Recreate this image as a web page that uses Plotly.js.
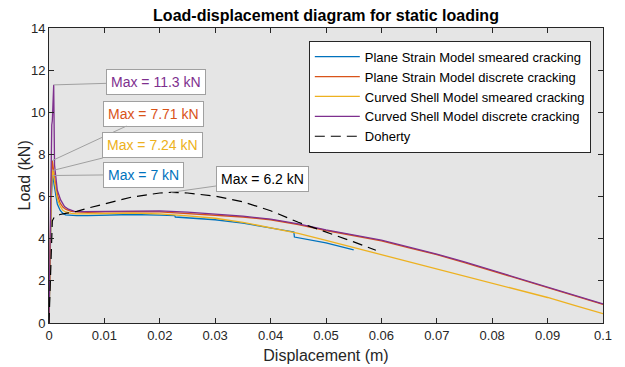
<!DOCTYPE html>
<html>
<head>
<meta charset="utf-8">
<script src="https://cdn.plot.ly/plotly-3.0.1.min.js"></script>
<style>html,body{margin:0;padding:0;background:#fff;}#chart{width:625px;height:367px;}</style>
</head>
<body>
<div id="chart"></div>
<script>
// ---- Data ----
const seriesNames = [
  "Plane Strain Model smeared cracking",
  "Plane Strain Model discrete cracking",
  "Curved Shell Model smeared cracking",
  "Curved Shell Model discrete cracking",
  "Doherty"
];

const psSmearedX = [0, 0.0002, 0.0004, 0.0006, 0.0007, 0.0009, 0.0012, 0.0015, 0.002, 0.0025, 0.003, 0.004, 0.005, 0.007, 0.01, 0.015, 0.02, 0.0227, 0.0228, 0.025, 0.03, 0.035, 0.04, 0.0442, 0.0443, 0.047, 0.05, 0.055];
const psSmearedY = [0, 3.0, 5.8, 6.9, 7.0, 6.6, 6.0, 5.65, 5.35, 5.2, 5.13, 5.1, 5.1, 5.1, 5.12, 5.15, 5.12, 5.1, 5.03, 4.99, 4.9, 4.74, 4.53, 4.32, 4.08, 3.96, 3.8, 3.47];

const psDiscreteX = [0, 0.0002, 0.0004, 0.0006, 0.0008, 0.001, 0.0013, 0.0016, 0.002, 0.0025, 0.003, 0.004, 0.005, 0.007, 0.01, 0.015, 0.02, 0.025, 0.03, 0.035, 0.04, 0.045, 0.05, 0.055, 0.06, 0.065, 0.07, 0.075, 0.08, 0.085, 0.09, 0.095, 0.1];
const psDiscreteY = [0, 3.5, 6.5, 7.71, 7.4, 6.9, 6.4, 6.0, 5.7, 5.5, 5.4, 5.3, 5.27, 5.25, 5.27, 5.29, 5.27, 5.2, 5.13, 5.03, 4.9, 4.67, 4.39, 4.14, 3.9, 3.57, 3.24, 2.87, 2.47, 2.09, 1.7, 1.3, 0.88];

const csSmearedX = [0, 0.0002, 0.0004, 0.0006, 0.0007, 0.0009, 0.0012, 0.0015, 0.002, 0.0025, 0.003, 0.004, 0.005, 0.007, 0.01, 0.015, 0.02, 0.025, 0.03, 0.035, 0.04, 0.0443, 0.045, 0.05, 0.055, 0.06, 0.065, 0.07, 0.075, 0.08, 0.085, 0.09, 0.095, 0.1];
const csSmearedY = [0, 3.2, 6.0, 7.1, 7.24, 6.9, 6.3, 5.9, 5.55, 5.35, 5.27, 5.2, 5.18, 5.17, 5.19, 5.21, 5.18, 5.08, 4.97, 4.78, 4.52, 4.3, 4.25, 3.92, 3.58, 3.24, 2.9, 2.56, 2.23, 1.9, 1.56, 1.21, 0.83, 0.44];

const csDiscreteX = [0, 0.0002, 0.0004, 0.0005, 0.0006, 0.00085, 0.001, 0.0012, 0.0015, 0.0021, 0.0028, 0.0035, 0.0046, 0.006, 0.01, 0.0164, 0.02, 0.025, 0.03, 0.035, 0.04, 0.045, 0.05, 0.055, 0.06, 0.065, 0.07, 0.075, 0.08, 0.085, 0.09, 0.095, 0.1];
const csDiscreteY = [0, 4.5, 9.0, 9.4, 9.6, 11.3, 7.5, 6.9, 6.3, 5.84, 5.53, 5.4, 5.3, 5.29, 5.3, 5.32, 5.32, 5.26, 5.18, 5.07, 4.93, 4.7, 4.42, 4.17, 3.93, 3.6, 3.27, 2.9, 2.5, 2.12, 1.73, 1.33, 0.91];

const dohertyX = [0, 0.0002, 0.0004, 0.0006, 0.001, 0.002, 0.003, 0.005, 0.007, 0.01, 0.015, 0.02, 0.022, 0.025, 0.03, 0.035, 0.04, 0.045, 0.05, 0.055, 0.059];
const dohertyY = [0, 2.0, 3.8, 4.85, 5.05, 5.15, 5.2, 5.3, 5.45, 5.65, 5.98, 6.17, 6.2, 6.17, 6.02, 5.75, 5.33, 4.78, 4.33, 3.85, 3.45];

const xTitle = "Displacement (m)";
const yTitle = "Load (kN)";
const chartTitle = "Load-displacement diagram for static loading";

// ---- Styling ----
const FONT = "Liberation Sans, Arial, sans-serif";
const colors = ["#0072BD", "#D95319", "#EDB120", "#7E2F8E", "#000000"];
const xs = [psSmearedX, psDiscreteX, csSmearedX, csDiscreteX, dohertyX];
const ys = [psSmearedY, psDiscreteY, csSmearedY, csDiscreteY, dohertyY];

const traces = xs.map((x, i) => ({
  type: "scatter",
  mode: "lines",
  x: x,
  y: ys[i],
  name: seriesNames[i],
  line: i === 4 ? {color: colors[i], width: 1.2, dash: "10px,6px"} : {color: colors[i], width: 1.3}
}));

// annotation offsets (pixels) from max point to label box centre
const annOffsets = [[91, -1], [101, -47], [100, -25], [102, -3], [92, -13]];
const annotations = xs.map((x, i) => {
  const y = ys[i];
  let k = 0;
  for (let j = 1; j < y.length; j++) if (y[j] > y[k]) k = j;
  return {
    x: x[k], y: y[k], xref: "x", yref: "y",
    text: "Max = " + (+y[k].toPrecision(3)) + " kN",
    showarrow: true, arrowhead: 0, arrowwidth: 1, arrowcolor: "#a0a0a0",
    ax: annOffsets[i][0], ay: annOffsets[i][1],
    bgcolor: "#ffffff", bordercolor: "#a0a0a0", borderwidth: 1, borderpad: 4,
    font: {family: FONT, size: 14, color: colors[i]}
  };
});
// y-axis title placed as rotated text to sit close to the tick labels as in the reference
annotations.push({
  text: yTitle, textangle: -90, showarrow: false,
  xref: "paper", yref: "paper", x: (24 - 49) / 554, y: 0.5,
  xanchor: "center", yanchor: "middle",
  font: {family: FONT, size: 16, color: "#262626"}
});

const axisCommon = {
  showgrid: false, zeroline: false,
  showline: true, linecolor: "#262626", linewidth: 1,
  mirror: "ticks", ticks: "inside", ticklen: 5, tickcolor: "#262626",
  tickfont: {family: FONT, size: 13, color: "#262626"}
};

const layout = {
  width: 625, height: 367,
  margin: {l: 49, r: 22, t: 28, b: 44},
  paper_bgcolor: "#ffffff",
  plot_bgcolor: "#e5e5e5",
  title: {
    text: "<b>" + chartTitle + "</b>",
    font: {family: FONT, size: 16, color: "#000000"},
    x: 0.5, xref: "paper", xanchor: "center",
    y: 1 - 15 / 367, yref: "container", yanchor: "middle"
  },
  xaxis: Object.assign({}, axisCommon, {
    range: [0, 0.1], dtick: 0.01, tick0: 0,
    title: {text: xTitle, standoff: 8, font: {family: FONT, size: 16, color: "#262626"}}
  }),
  yaxis: Object.assign({}, axisCommon, {
    range: [0, 14], dtick: 2, tick0: 0
  }),
  legend: {
    x: 0.978, xanchor: "right", xref: "paper",
    y: 0.957, yanchor: "top", yref: "paper",
    bgcolor: "#ffffff", bordercolor: "#262626", borderwidth: 1,
    font: {family: FONT, size: 13, color: "#000000"},
    itemwidth: 45,
    tracegroupgap: 0
  },
  showlegend: true,
  annotations: annotations
};

Plotly.newPlot("chart", traces, layout, {displayModeBar: false, staticPlot: true});
</script>
</body>
</html>
